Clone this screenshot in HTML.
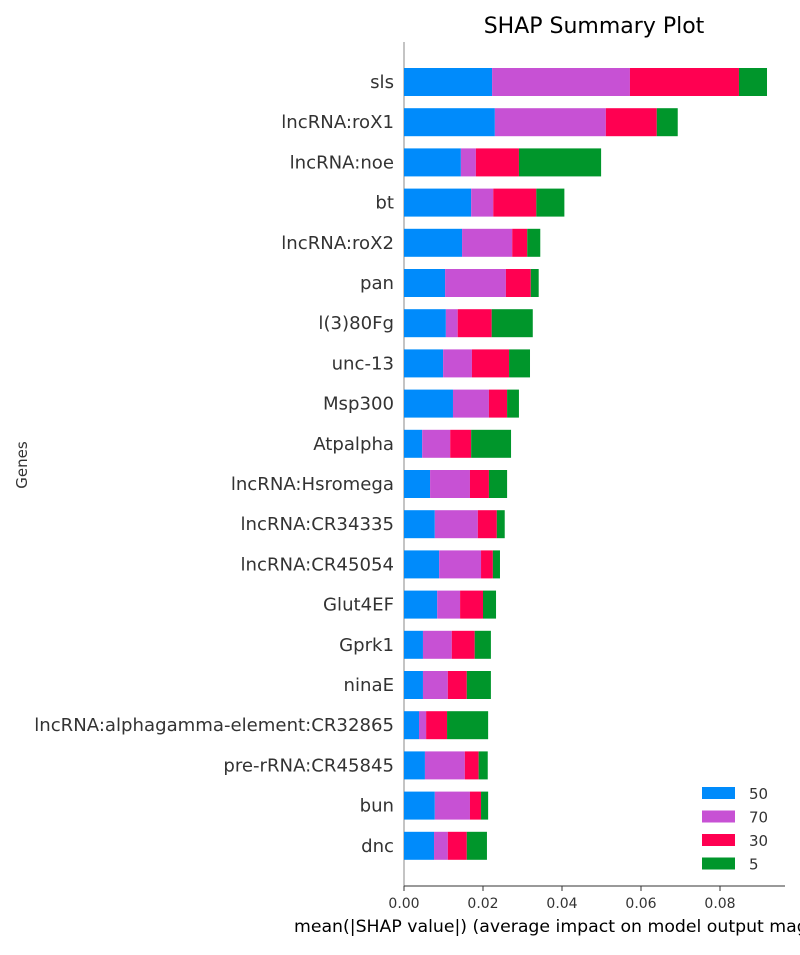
<!DOCTYPE html>
<html><head><meta charset="utf-8"><style>
body{margin:0;background:#fff;}
svg{font-family:"DejaVu Sans","Liberation Sans",sans-serif;}
</style></head><body>
<svg id="chart" width="800" height="950" xmlns="http://www.w3.org/2000/svg">
<text x="594" y="33" font-size="22" text-anchor="middle" fill="#000">SHAP Summary Plot</text>
<text transform="translate(27,465) rotate(-90)" font-size="15" text-anchor="middle" fill="#333">Genes</text>
<text x="294" y="932" font-size="17.3" fill="#000">mean(|SHAP value|) (average impact on model output magnitude)</text>
<line x1="404" y1="42" x2="404" y2="886" stroke="#888" stroke-width="1"/>
<line x1="404" y1="886" x2="785" y2="886" stroke="#333" stroke-width="1"/>
<g id="bars"></g><g id="ticks"></g><g id="legend"></g>
</svg>
<script>
const genes=["sls","lncRNA:roX1","lncRNA:noe","bt","lncRNA:roX2","pan","l(3)80Fg","unc-13","Msp300","Atpalpha","lncRNA:Hsromega","lncRNA:CR34335","lncRNA:CR45054","Glut4EF","Gprk1","ninaE","lncRNA:alphagamma-element:CR32865","pre-rRNA:CR45845","bun","dnc"];
const seriesNames=["50","70","30","5"];
const s50=[0.0223,0.0230,0.0144,0.0170,0.0147,0.0104,0.0106,0.0099,0.0124,0.0046,0.0066,0.0078,0.0089,0.0084,0.0048,0.0048,0.0038,0.0053,0.0078,0.0076];
const s70=[0.0349,0.0281,0.0038,0.0056,0.0127,0.0154,0.0030,0.0073,0.0091,0.0071,0.0101,0.0109,0.0106,0.0058,0.0073,0.0063,0.0018,0.0101,0.0089,0.0035];
const s30=[0.0276,0.0129,0.0109,0.0109,0.0038,0.0063,0.0086,0.0094,0.0046,0.0053,0.0048,0.0048,0.0030,0.0058,0.0058,0.0048,0.0053,0.0035,0.0028,0.0048];
const s5=[0.0071,0.0053,0.0208,0.0071,0.0033,0.0020,0.0104,0.0053,0.0030,0.0101,0.0046,0.0020,0.0018,0.0033,0.0041,0.0061,0.0104,0.0023,0.0018,0.0051];
const tickVals=[0,0.02,0.04,0.06,0.08];
const tickLabels=["0.00","0.02","0.04","0.06","0.08"];
const colors=["#008bfb","#c751d4","#ff0051","#00962b"];
const NS="http://www.w3.org/2000/svg";
const x=v=>404+v*3950;
const y=i=>82+i*40.2;
const bars=document.getElementById("bars");
const series=[s50,s70,s30,s5];
genes.forEach((g,i)=>{
  let acc=0;
  series.forEach((s,k)=>{
    const r=document.createElementNS(NS,"rect");
    r.setAttribute("x",x(acc));r.setAttribute("y",y(i)-14);
    r.setAttribute("width",x(acc+s[i])-x(acc));r.setAttribute("height",28);
    r.setAttribute("fill",colors[k]);
    
    
    bars.appendChild(r);acc+=s[i];
  });
  const t=document.createElementNS(NS,"text");
  t.setAttribute("x",394);t.setAttribute("y",y(i)+6);t.setAttribute("font-size",18.1);
  t.setAttribute("text-anchor","end");t.setAttribute("fill","#333");t.textContent=g;
  
  
  bars.appendChild(t);
});
const ticks=document.getElementById("ticks");
tickVals.forEach((v,i)=>{
  const l=document.createElementNS(NS,"line");
  l.setAttribute("x1",x(v));l.setAttribute("x2",x(v));l.setAttribute("y1",886);l.setAttribute("y2",891);l.setAttribute("stroke","#333");
  
  
  ticks.appendChild(l);
  const t=document.createElementNS(NS,"text");
  t.setAttribute("x",x(v));t.setAttribute("y",908);t.setAttribute("font-size",14);t.setAttribute("text-anchor","middle");t.setAttribute("fill","#333");t.textContent=tickLabels[i];
  
  
  ticks.appendChild(t);
});
const lg=document.getElementById("legend");
seriesNames.forEach((n,k)=>{
  const r=document.createElementNS(NS,"rect");
  r.setAttribute("x",702);r.setAttribute("y",787+k*23.5);r.setAttribute("width",33);r.setAttribute("height",12);r.setAttribute("fill",colors[k]);
  
  
  lg.appendChild(r);
  const t=document.createElementNS(NS,"text");
  t.setAttribute("x",749);t.setAttribute("y",799+k*23.5);t.setAttribute("font-size",15);t.setAttribute("fill","#333");t.textContent=n;
  
  
  lg.appendChild(t);
});
</script>
</body></html>
